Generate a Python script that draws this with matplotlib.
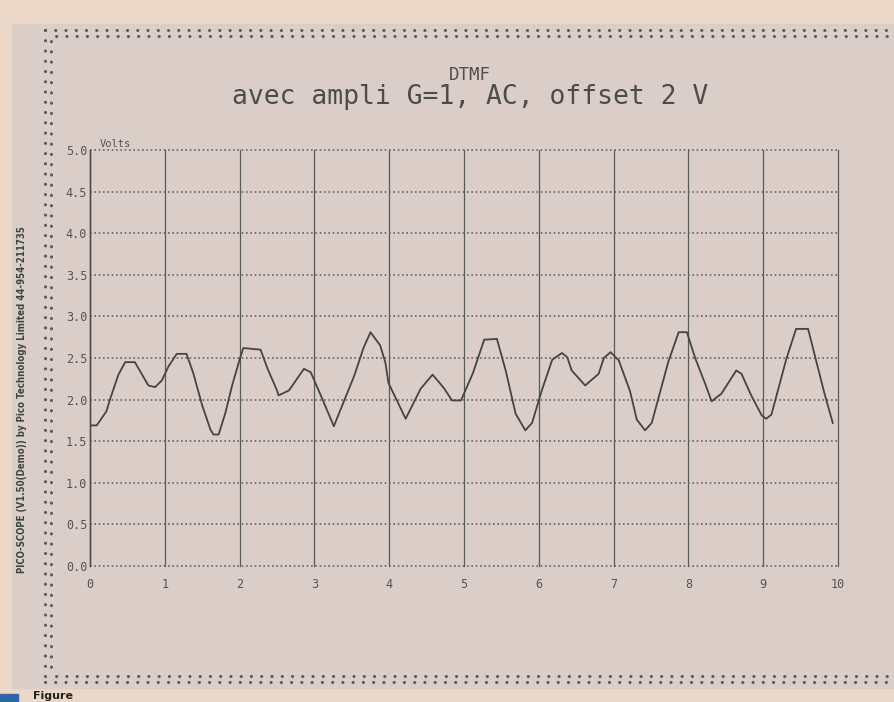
import numpy as np
import matplotlib.pyplot as plt
from matplotlib.patches import Rectangle
from matplotlib.lines import Line2D

W, H = 895, 702

# scope trace, time in ms / volts
time_ms = [0.02, 0.09, 0.22, 0.27, 0.38, 0.47, 0.60, 0.69, 0.78, 0.87, 0.96,
           1.05, 1.16, 1.29, 1.38, 1.50, 1.61, 1.65, 1.72, 1.81, 1.90, 2.01,
           2.05, 2.28, 2.37, 2.50, 2.52, 2.66, 2.86, 2.95, 3.10, 3.26, 3.39,
           3.53, 3.66, 3.75, 3.88, 3.95, 3.99, 4.22, 4.42, 4.58, 4.73, 4.84,
           4.96, 5.12, 5.27, 5.44, 5.56, 5.69, 5.82, 5.91, 6.04, 6.18, 6.31,
           6.38, 6.44, 6.62, 6.80, 6.87, 6.96, 7.07, 7.22, 7.31, 7.42, 7.51,
           7.73, 7.87, 7.98, 8.09, 8.22, 8.31, 8.44, 8.64, 8.71, 8.84, 8.98,
           9.04, 9.11, 9.31, 9.44, 9.60, 9.71, 9.82, 9.93]
volts = [1.69, 1.69, 1.86, 2.01, 2.30, 2.45, 2.45, 2.31, 2.17, 2.15, 2.23,
         2.40, 2.55, 2.55, 2.32, 1.93, 1.64, 1.58, 1.58, 1.84, 2.17, 2.51,
         2.62, 2.60, 2.38, 2.11, 2.05, 2.11, 2.37, 2.33, 2.02, 1.68, 1.97,
         2.28, 2.63, 2.81, 2.65, 2.44, 2.20, 1.77, 2.13, 2.30, 2.14, 1.99,
         1.99, 2.32, 2.72, 2.73, 2.34, 1.83, 1.63, 1.72, 2.11, 2.48, 2.56,
         2.51, 2.35, 2.17, 2.31, 2.50, 2.57, 2.47, 2.10, 1.76, 1.63, 1.72,
         2.45, 2.81, 2.81, 2.50, 2.20, 1.98, 2.07, 2.35, 2.31, 2.05, 1.81,
         1.77, 1.82, 2.49, 2.85, 2.85, 2.46, 2.07, 1.72]

y_ticks = [0.0, 0.5, 1.0, 1.5, 2.0, 2.5, 3.0, 3.5, 4.0, 4.5, 5.0]
x_ticks = [0, 1, 2, 3, 4, 5, 6, 7, 8, 9, 10]

title_top = "DTMF"
title_main = "avec ampli G=1, AC, offset 2 V"
y_unit = "Volts"
side_note = "PICO-SCOPE (V1.50(Demo)) by Pico Technology Limited 44-954-211735"
caption = "Figure"

PAPER = "#ecd8c8"
SCREEN = "#dbcec9"
INK = "#45453f"
GRID = "#66665f"
MONO = "DejaVu Sans Mono"


def fx(x):
    return x / W


def fy(y):
    return 1 - y / H


fig = plt.figure(figsize=(W / 100, H / 100), dpi=100, facecolor=PAPER)

# printed screen area, kept behind the axes
fig.patches.append(Rectangle((fx(12), fy(688)), fx(W - 12), (688 - 24) / H,
                             transform=fig.transFigure, color=SCREEN, zorder=-5))


# double dotted frame
def dotted(xs, ys, offset):
    fig.add_artist(Line2D([fx(v) for v in xs], [fy(v) for v in ys],
                          transform=fig.transFigure, color="#5d5c58", lw=2.3,
                          linestyle=(offset, (0.01, 3.2)),
                          dash_capstyle="round", zorder=-1))


for k, off in enumerate([0, 1.6]):
    d = 6 * k
    dotted([45 + d, W + 5], [30 + d, 30 + d], off)
    dotted([45 + d, W + 5], [682 - d, 682 - d], off)
    dotted([45 + d, 45 + d], [30 + d, 682 - d], off)

ax = fig.add_axes([fx(90), fy(566), (838 - 90) / W, (566 - 150) / H])
ax.set_zorder(2)
ax.set_facecolor("none")
ax.set_xlim(0, 10)
ax.set_ylim(0, 5)
ax.set_xticks(x_ticks)
ax.set_yticks(y_ticks)
ax.set_xticklabels([str(t) for t in x_ticks])
ax.set_yticklabels(["%.1f" % t for t in y_ticks])
ax.tick_params(length=0, labelsize=8.5, labelcolor="#55554f")
ax.tick_params(axis="x", pad=9)
ax.tick_params(axis="y", pad=2)
for lab in ax.get_xticklabels() + ax.get_yticklabels():
    lab.set_family(MONO)

ax.grid(axis="y", linestyle=(0, (1.0, 1.6)), color=GRID, lw=1.2)
ax.grid(axis="x", linestyle="-", color="#5a5a54", lw=0.9)
for ln in ax.get_ygridlines() + ax.get_xgridlines():
    ln.set_clip_on(False)
for side in ["top", "right", "bottom"]:
    ax.spines[side].set_visible(False)
ax.spines["left"].set_color(INK)
ax.spines["left"].set_linewidth(1.0)

ax.plot(time_ms, volts, color=INK, lw=1.3, solid_joinstyle="round")

ax.text(0.013, 1.003, y_unit, transform=ax.transAxes, family=MONO,
        fontsize=7.5, color="#55554f", ha="left", va="bottom")

fig.text(fx(470), fy(80), title_top, family=MONO, fontsize=12.5,
         color="#505049", ha="center", va="baseline")
fig.text(fx(470), fy(104), title_main, family=MONO, fontsize=19,
         color="#4d4d47", ha="center", va="baseline")

fig.text(fx(22), fy(400), side_note, rotation=90, ha="center", va="center",
         family="DejaVu Sans", fontstretch="condensed", fontsize=6.9,
         weight="bold", color="#3c453c")

# caption under the screen shot
fig.patches.append(Rectangle((0, 0), fx(18), 8 / H, transform=fig.transFigure,
                             color="#2e67a3", zorder=2))
fig.text(fx(33), fy(701), caption, family="DejaVu Sans", weight="bold",
         fontsize=8, color="#222222", ha="left", va="bottom")

fig.savefig("out.png", dpi=100, facecolor=PAPER)
